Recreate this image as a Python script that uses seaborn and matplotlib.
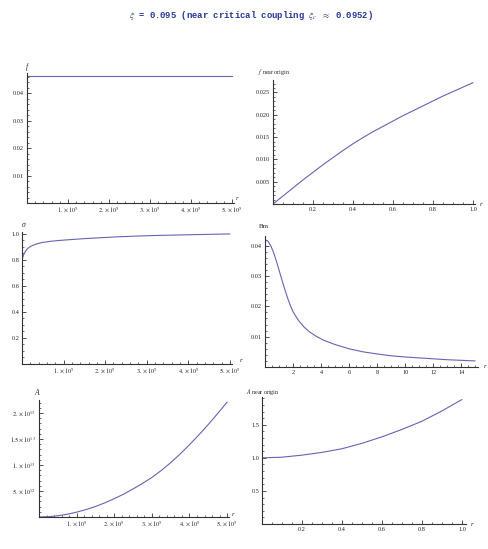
import matplotlib
matplotlib.use('Agg')
import matplotlib.pyplot as plt
import seaborn as sns
from matplotlib.ticker import FixedLocator, MultipleLocator

# ---------------- data ----------------
title_text = r'$\xi$ = 0.095 (near critical coupling $\xi_c$ $\approx$ 0.0952)'

f_r = [0, 1e5, 2e5, 3e5, 4e5, 5e5]
f_vals = [0.0463, 0.0463, 0.0463, 0.0463, 0.0463, 0.0463]

f0_r = [0, 0.05, 0.1, 0.15, 0.2, 0.25, 0.3, 0.35, 0.4, 0.45, 0.5, 0.55, 0.6,
        0.65, 0.7, 0.75, 0.8, 0.85, 0.9, 0.95, 1.0]
f0_vals = [0, 0.0018, 0.0036, 0.0054, 0.0071, 0.0088, 0.0104, 0.0120, 0.0135, 0.0149,
           0.0162, 0.0174, 0.0186, 0.0198, 0.0209, 0.0220, 0.0231, 0.0242, 0.0252, 0.0262, 0.0272]

sig_r = [0, 1e3, 2e3, 3.5e3, 5e3, 8e3, 1.2e4, 1.8e4, 2.7e4, 3.8e4, 5e4, 7e4, 9e4, 1.1e5,
         1.5e5, 1.9e5, 2.3e5, 2.7e5, 3.3e5, 3.9e5, 4.5e5, 5e5]
sig_vals = [0.79, 0.808, 0.822, 0.836, 0.847, 0.865, 0.883, 0.899, 0.914, 0.926, 0.935,
            0.944, 0.950, 0.955, 0.964, 0.971, 0.978, 0.983, 0.989, 0.993, 0.997, 1.0]

bm_r = [0, 0.2, 0.4, 0.6, 0.8, 1.0, 1.2, 1.4, 1.6, 1.8, 2.0, 2.4, 2.8, 3.2, 3.7, 4.2,
        5, 6, 7, 8, 9, 10, 11, 12, 13, 14, 15]
bm_vals = [0.0420, 0.0415, 0.0401, 0.0379, 0.0351, 0.0320, 0.0288, 0.0258, 0.0229, 0.0204,
           0.0182, 0.0153, 0.0131, 0.0115, 0.0100, 0.0088, 0.0074, 0.0060, 0.0050, 0.0043,
           0.0037, 0.0033, 0.0030, 0.0027, 0.0024, 0.0022, 0.0020]

a_r = [0, 0.25e5, 0.5e5, 0.75e5, 1e5, 1.25e5, 1.5e5, 1.75e5, 2e5, 2.25e5, 2.5e5, 2.75e5,
       3e5, 3.25e5, 3.5e5, 3.75e5, 4e5, 4.25e5, 4.5e5, 4.75e5, 5e5]
a_vals = [1, 0.06e12, 0.24e12, 0.53e12, 0.93e12, 1.42e12, 2.02e12, 2.72e12, 3.52e12,
          4.4e12, 5.4e12, 6.45e12, 7.6e12, 8.95e12, 1.045e13, 1.21e13, 1.39e13,
          1.58e13, 1.78e13, 1.99e13, 2.21e13]

a0_r = [0, 0.1, 0.2, 0.3, 0.4, 0.5, 0.6, 0.7, 0.8, 0.9, 1.0]
a0_vals = [1.0, 1.01, 1.041, 1.083, 1.138, 1.22, 1.318, 1.43, 1.554, 1.71, 1.882]

big_ticks = [1e5, 2e5, 3e5, 4e5, 5e5]
big_labels = [r'$1.\times10^{5}$', r'$2.\times10^{5}$', r'$3.\times10^{5}$',
              r'$4.\times10^{5}$', r'$5.\times10^{5}$']
a_yticks = [5e12, 1e13, 1.5e13, 2e13]
a_ylabels = [r'$5.\times10^{12}$', r'$1.\times10^{13}$', r'$1.5\times10^{13}$', r'$2.\times10^{13}$']

# ---------------- style ----------------
sns.set_theme(style='ticks')
plt.rcParams['font.family'] = ['Liberation Serif', 'DejaVu Serif']
plt.rcParams['mathtext.fontset'] = 'stix'

W, H = 488, 549
fig = plt.figure(figsize=(W / 100, H / 100), dpi=100)
LINE = '#6464b4'
AX = '#333333'


def make_ax(x0, x1, ybot, ytop):
    return fig.add_axes([x0 / W, 1 - ybot / H, (x1 - x0) / W, (ybot - ytop) / H])


def style(ax, xlim, ylim):
    ax.set_xlim(*xlim)
    ax.set_ylim(*ylim)
    for s in ['top', 'right']:
        ax.spines[s].set_visible(False)
    for s in ['left', 'bottom']:
        ax.spines[s].set_color(AX)
        ax.spines[s].set_linewidth(0.8)
    ax.tick_params(which='major', direction='in', length=3, width=0.6, color=AX,
                   labelsize=4.5, labelcolor='#222222', pad=2,
                   bottom=True, left=True, top=False, right=False)
    ax.tick_params(which='minor', direction='in', length=1.6, width=0.5, color=AX,
                   bottom=True, left=True, top=False, right=False)
    ax.set_xlabel('')
    ax.set_ylabel('')
    ax.patch.set_alpha(0)


def ftext(x, y, s, **kw):
    fig.text(x / W, 1 - y / H, s, **kw)


# Title
fig.text(251 / W, 1 - 15 / H, title_text, ha='center', va='center',
         family=['Liberation Mono', 'DejaVu Sans Mono'], fontsize=6.4,
         weight='bold', color='#26389a')

# Panel 1: f
ax1 = make_ax(27, 234, 203, 73)
sns.lineplot(x=f_r, y=f_vals, ax=ax1, color=LINE, lw=0.8)
style(ax1, (0, 5.05e5), (0, 0.0473))
ax1.xaxis.set_major_locator(FixedLocator(big_ticks))
ax1.set_xticklabels(big_labels)
ax1.xaxis.set_minor_locator(MultipleLocator(2e4))
ax1.yaxis.set_major_locator(FixedLocator([0.01, 0.02, 0.03, 0.04]))
ax1.set_yticklabels(['0.01', '0.02', '0.03', '0.04'])
ax1.yaxis.set_minor_locator(MultipleLocator(0.002))
ftext(27, 67, 'f', ha='center', va='center', fontsize=5.5, style='italic')
ftext(237, 199, 'r', ha='center', va='center', fontsize=5, style='italic')

# Panel 2: f near origin
ax2 = make_ax(273, 475, 204, 80)
sns.lineplot(x=f0_r, y=f0_vals, ax=ax2, color=LINE, lw=0.8)
style(ax2, (0, 1.01), (0, 0.0278))
ax2.xaxis.set_major_locator(FixedLocator([0.2, 0.4, 0.6, 0.8, 1.0]))
ax2.set_xticklabels(['0.2', '0.4', '0.6', '0.8', '1.0'])
ax2.xaxis.set_minor_locator(MultipleLocator(0.05))
ax2.yaxis.set_major_locator(FixedLocator([0.005, 0.010, 0.015, 0.020, 0.025]))
ax2.set_yticklabels(['0.005', '0.010', '0.015', '0.020', '0.025'])
ax2.yaxis.set_minor_locator(MultipleLocator(0.001))
ftext(274, 72, r'$f$ near origin', ha='center', va='center', fontsize=4.3)
ftext(481, 205, 'r', ha='center', va='center', fontsize=5, style='italic')

# Panel 3: sigma
ax3 = make_ax(22, 232, 364, 232)
sns.lineplot(x=sig_r, y=sig_vals, ax=ax3, color=LINE, lw=0.8)
style(ax3, (0, 5.05e5), (0, 1.015))
ax3.xaxis.set_major_locator(FixedLocator(big_ticks))
ax3.set_xticklabels(big_labels)
ax3.xaxis.set_minor_locator(MultipleLocator(2e4))
ax3.yaxis.set_major_locator(FixedLocator([0.2, 0.4, 0.6, 0.8, 1.0]))
ax3.set_yticklabels(['0.2', '0.4', '0.6', '0.8', '1.0'])
ax3.yaxis.set_minor_locator(MultipleLocator(0.05))
ftext(24, 225, 'σ', ha='center', va='center', fontsize=5.5, style='italic')
ftext(241, 361, 'r', ha='center', va='center', fontsize=5, style='italic')

# Panel 4: Bm
ax4 = make_ax(265, 478, 367, 236)
sns.lineplot(x=bm_r, y=bm_vals, ax=ax4, color=LINE, lw=0.8)
style(ax4, (0, 15.2), (0, 0.0432))
ax4.xaxis.set_major_locator(FixedLocator([2, 4, 6, 8, 10, 12, 14]))
ax4.set_xticklabels(['2', '4', '6', '8', '10', '12', '14'])
ax4.xaxis.set_minor_locator(MultipleLocator(0.5))
ax4.yaxis.set_major_locator(FixedLocator([0.01, 0.02, 0.03, 0.04]))
ax4.set_yticklabels(['0.01', '0.02', '0.03', '0.04'])
ax4.yaxis.set_minor_locator(MultipleLocator(0.002))
ftext(264, 227, 'Bm', ha='center', va='center', fontsize=5)
ftext(485, 366, 'r', ha='center', va='center', fontsize=5, style='italic')

# Panel 5: A
ax5 = make_ax(39, 229, 517, 400)
sns.lineplot(x=a_r, y=a_vals, ax=ax5, color=LINE, lw=0.8)
style(ax5, (0, 5.05e5), (0, 2.25e13))
ax5.xaxis.set_major_locator(FixedLocator(big_ticks))
ax5.set_xticklabels(big_labels)
ax5.xaxis.set_minor_locator(MultipleLocator(2e4))
ax5.yaxis.set_major_locator(FixedLocator(a_yticks))
ax5.set_yticklabels(a_ylabels)
ax5.yaxis.set_minor_locator(MultipleLocator(1e12))
ftext(37, 393, 'A', ha='center', va='center', fontsize=5.5, style='italic')
ftext(233, 514, 'r', ha='center', va='center', fontsize=5, style='italic')

# Panel 6: A near origin
ax6 = make_ax(262, 466, 524, 397)
sns.lineplot(x=a0_r, y=a0_vals, ax=ax6, color=LINE, lw=0.8)
style(ax6, (0, 1.02), (0, 1.92))
ax6.xaxis.set_major_locator(FixedLocator([0.2, 0.4, 0.6, 0.8, 1.0]))
ax6.set_xticklabels(['0.2', '0.4', '0.6', '0.8', '1.0'])
ax6.xaxis.set_minor_locator(MultipleLocator(0.05))
ax6.yaxis.set_major_locator(FixedLocator([0.5, 1.0, 1.5]))
ax6.set_yticklabels(['0.5', '1.0', '1.5'])
ax6.yaxis.set_minor_locator(MultipleLocator(0.1))
ftext(263, 392, r'$A$ near origin', ha='center', va='center', fontsize=4.3)
ftext(472, 524, 'r', ha='center', va='center', fontsize=5, style='italic')

fig.savefig('out.png', dpi=100, facecolor='white')
